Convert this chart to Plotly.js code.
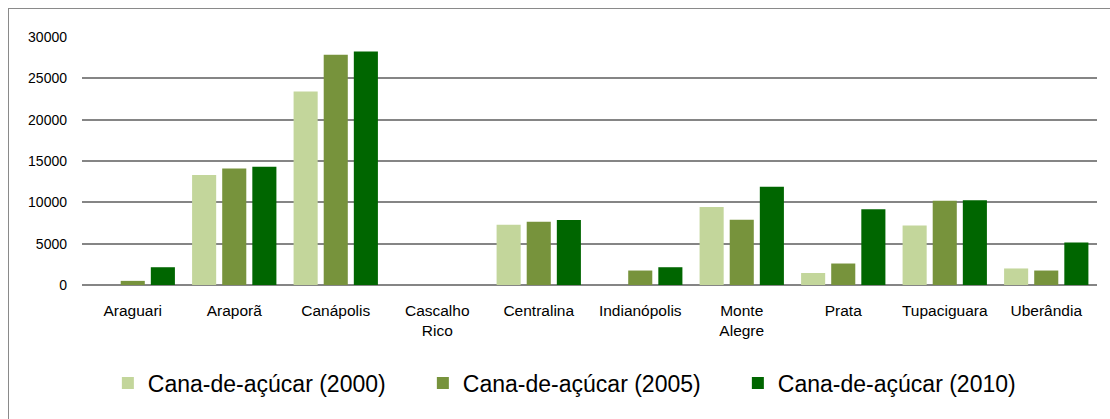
<!DOCTYPE html>
<html>
<head>
<meta charset="utf-8">
<script src="https://cdn.plot.ly/plotly-3.0.1.min.js"></script>
<style>
  html, body { margin: 0; padding: 0; width: 1110px; height: 419px; overflow: hidden; background: #fff; }
  #frame { position: absolute; left: 8px; top: 8px; width: 1300px; height: 600px; border-left: 1px solid #8a8a8a; border-top: 1px solid #8a8a8a; pointer-events: none; z-index: 2; }
  #chart { position: absolute; left: 0; top: 0; width: 1110px; height: 419px; }
</style>
</head>
<body>
<div id="chart"></div>
<div id="frame"></div>
<script>
const categories = ["Araguari", "Araporã", "Canápolis", "Cascalho<br>Rico", "Centralina", "Indianópolis", "Monte<br>Alegre", "Prata", "Tupaciguara", "Uberândia"];
const seriesNames = ["Cana-de-açúcar (2000)", "Cana-de-açúcar (2005)", "Cana-de-açúcar (2010)"];
const values2000 = [0, 13300, 23400, 0, 7300, 0, 9450, 1450, 7200, 2000];
const values2005 = [500, 14100, 27850, 0, 7650, 1750, 7900, 2600, 10200, 1750];
const values2010 = [2150, 14300, 28250, 0, 7850, 2150, 11900, 9150, 10250, 5150];
const yTicks = [0, 5000, 10000, 15000, 20000, 25000, 30000];

const colors = ["#C3D69B", "#77933C", "#006600"];
const allValues = [values2000, values2005, values2010];

const traces = allValues.map((v, i) => ({
  type: "bar",
  name: seriesNames[i],
  x: categories,
  y: v,
  marker: { color: colors[i], line: { width: 0 } },
  hoverinfo: "x+y"
}));

const layout = {
  width: 1110,
  height: 419,
  margin: { l: 82, r: 13, t: 37, b: 134 },
  paper_bgcolor: "#ffffff",
  plot_bgcolor: "#ffffff",
  font: { family: "Liberation Sans, Arial, sans-serif", color: "#000" },
  barmode: "group",
  bargap: 0.11,
  bargroupgap: 0.2,
  showlegend: true,
  legend: {
    orientation: "h",
    x: 0.491, xanchor: "center",
    y: -0.395, yanchor: "middle",
    font: { size: 23, color: "#000" },
    entrywidth: 270,
    traceorder: "normal"
  },
  xaxis: {
    type: "category",
    showgrid: false,
    showline: false,
    zeroline: false,
    ticks: "",
    tickfont: { size: 15.5 },
    ticklabelstandoff: 14
  },
  yaxis: {
    range: [0, 30000],
    tickvals: yTicks,
    ticktext: yTicks.map(String),
    showgrid: true,
    gridcolor: "#858585",
    gridwidth: 2,
    zeroline: true,
    zerolinecolor: "#858585",
    zerolinewidth: 2,
    showline: false,
    ticks: "",
    tickfont: { size: 14 },
    ticklabelstandoff: 14
  }
};

Plotly.newPlot("chart", traces, layout, { displayModeBar: false, staticPlot: true });
</script>
</body>
</html>
